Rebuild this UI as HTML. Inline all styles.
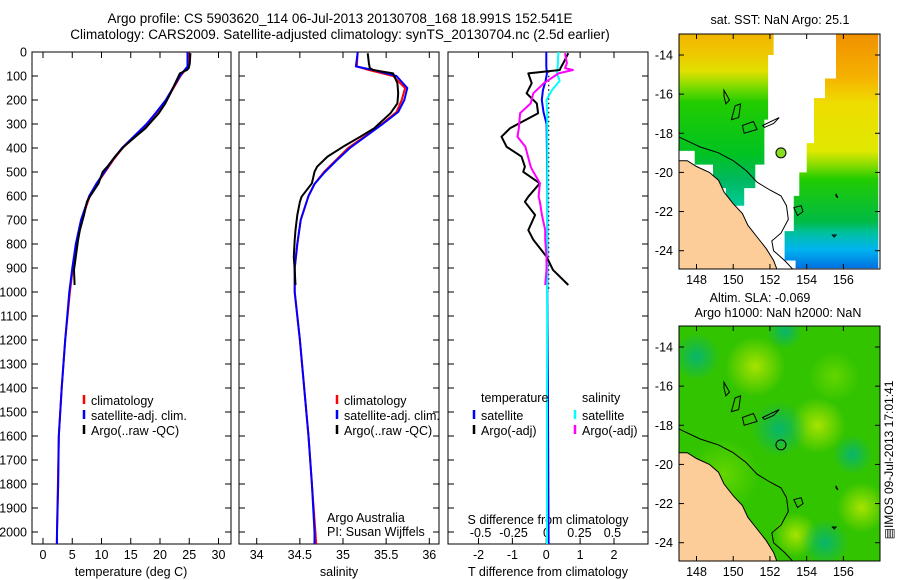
<!DOCTYPE html>
<html><head><meta charset="utf-8">
<style>
html,body{margin:0;padding:0;background:#fff;}
svg{display:block;font-family:"Liberation Sans",sans-serif;}
text{fill:#000;}
</style></head>
<body>
<svg id="fig" width="900" height="580" viewBox="0 0 900 580" xmlns="http://www.w3.org/2000/svg">
<text x="340" y="23" font-size="13.5" text-anchor="middle">Argo profile: CS 5903620_114 06-Jul-2013 20130708_168 18.991S 152.541E</text>
<text x="340" y="39" font-size="13.5" text-anchor="middle">Climatology: CARS2009. Satellite-adjusted climatology: synTS_20130704.nc (2.5d earlier)</text>
<g id="plots"></g>
<g id="maps"></g>
</svg>
<script>
// ---------- data ----------
const depthTicks=[0,100,200,300,400,500,600,700,800,900,1000,1100,1200,1300,1400,1500,1600,1700,1800,1900,2000];
const tempTicks=[0,5,10,15,20,25,30];
const salTicks=[34,34.5,35,35.5,36];
const tdiffTicks=[-2,-1,0,1,2];
const sdiffTicks=[-0.5,-0.25,0,0.25,0.5];
const sdiffTickLabels=["-0.5","-0.25","0","0.25","0.5"];

const climDepth=[0,60,75,100,150,200,250,300,350,400,450,500,550,600,700,800,900,1000,1200,1400,1600,1800,2000,2050];
const climTemp=[24.8,24.8,24.3,23.5,22.3,21.1,19.5,17.8,15.7,13.6,12.0,10.6,9.2,8.0,6.6,5.7,5.1,4.6,3.8,3.2,2.7,2.55,2.4,2.35];
const satTemp=[24.7,24.7,24.2,23.4,22.2,21.0,19.4,17.7,15.6,13.5,11.9,10.5,9.1,7.9,6.5,5.6,5.0,4.5,3.8,3.2,2.7,2.6,2.4,2.4];
const climSal=[35.17,35.16,35.30,35.58,35.72,35.68,35.62,35.45,35.26,35.06,34.92,34.78,34.67,34.60,34.51,34.47,34.44,34.44,34.50,34.55,34.60,34.64,34.68,34.69];
const satSal=[35.17,35.15,35.35,35.62,35.745,35.71,35.64,35.46,35.27,35.08,34.93,34.79,34.67,34.60,34.51,34.47,34.44,34.44,34.50,34.55,34.60,34.64,34.67,34.67];

const argoDepth=[5,47,67,75,89,130,172,214,255,318,353,395,436,478,499,547,603,624,679,742,783,853,908,971];
const argoTemp=[25.2,25.1,24.9,24.6,23.4,22.6,21.8,20.9,19.8,17.5,15.8,13.8,12.3,11.0,10.2,9.5,8.0,7.5,7.0,6.3,6.0,5.6,5.3,5.4];
const argoSal=[35.286,35.30,35.31,35.35,35.58,35.63,35.64,35.63,35.55,35.36,35.20,35.00,34.82,34.70,34.67,34.64,34.52,34.50,34.47,34.45,34.44,34.43,34.44,34.45];

const argoTdiff=[0.65,0.5,0.42,0.4,-0.53,-0.43,-0.58,-0.28,-0.24,-1.07,-1.32,-1.17,-0.73,-0.63,-0.68,-0.19,-0.53,-0.63,-0.33,-0.53,-0.38,0.01,0.2,0.65];
const argoSdiff=[0.14,0.155,0.14,0.2,0.09,-0.02,-0.1,-0.12,-0.2,-0.21,-0.22,-0.16,-0.14,-0.12,-0.1,-0.05,-0.06,-0.05,-0.035,-0.01,-0.01,0,0,-0.01];
const satDiffDepth=[0,60,90,120,160,200,250,300,400,600,800,1000,1400,2050];
const satTdiff=[0,0,0.02,-0.02,-0.1,-0.13,-0.08,0.01,0.02,0.03,0.03,0.03,0.05,0.07];
const satSdiff=[0.09,0.085,0.08,0.1,0.04,0.0,0.005,0.005,0.006,0.006,0.005,0.005,0.004,0.004];

// ---------- helpers ----------
const NS="http://www.w3.org/2000/svg";
function mk(tag,attrs,parent,txt){const e=document.createElementNS(NS,tag);for(const k in attrs)e.setAttribute(k,attrs[k]);if(txt!==undefined)e.textContent=txt;parent.appendChild(e);return e;}
const TOP=52,BOT=544;
const yD=d=>TOP+d*0.24;
function lin(d0,d1,p0,p1){return v=>p0+(v-d0)/(d1-d0)*(p1-p0);}
const plots=document.getElementById('plots');

function frame(x0,x1,name,xTicks,xScale,xLabels,yLabels){
  const g=mk('g',{},plots);
  
  
  const r=mk('rect',{x:x0,y:TOP,width:x1-x0,height:BOT-TOP,fill:'none',stroke:'#000','stroke-width':1},g);
  
  
  depthTicks.forEach(d=>{
    const y=yD(d);
    mk('line',{x1:x0,x2:x0+6,y1:y,y2:y,stroke:'#000'},g);
    mk('line',{x1:x1-6,x2:x1,y1:y,y2:y,stroke:'#000'},g);
    if(yLabels){const t=mk('text',{x:x0-5,y:y+4.5,'font-size':12.5,'text-anchor':'end'},g,String(d));
      
      }
  });
  if(xTicks){xTicks.forEach((v,i)=>{
    const x=xScale(v);
    mk('line',{x1:x,x2:x,y1:BOT,y2:BOT-6,stroke:'#000'},g);
    mk('line',{x1:x,x2:x,y1:TOP,y2:TOP+6,stroke:'#000'},g);
    if(xLabels){const t=mk('text',{x:x,y:BOT+15,'font-size':12.5,'text-anchor':'middle'},g,xLabels[i]);
      
      }
  });}
  return g;
}
function line(g,xs,ds,sx,color,name,w){
  const pts=xs.map((v,i)=>sx(v).toFixed(1)+','+yD(ds[i]).toFixed(1)).join(' ');
  const p=mk('polyline',{points:pts,fill:'none',stroke:color,'stroke-width':w||2,'stroke-linejoin':'round'},g);
  
  
  return p;
}
function legend(g,x,y,color,label){
  mk('line',{x1:x,x2:x,y1:y-10,y2:y-1,stroke:color,'stroke-width':2.5},g);
  const t=mk('text',{x:x+7,y:y,'font-size':12.5},g,label);
  
  
}
function label(g,x,y,txt,name,anchor){const t=mk('text',{x:x,y:y,'font-size':12.5,'text-anchor':anchor||'middle'},g,txt);
  
  return t;}

// Panel 1: temperature
const sT=lin(0,30,43,218.5);
const g1=frame(32,231,'temperature-panel',tempTicks,sT,tempTicks.map(String),true);
line(g1,climTemp,climDepth,sT,'#ff0000','climatology-temp-line');
line(g1,satTemp,climDepth,sT,'#0000ff','satellite-temp-line');
line(g1,argoTemp,argoDepth,sT,'#000000','argo-temp-line');
legend(g1,84,405,'#ff0000','climatology');
legend(g1,84,420,'#0000ff','satellite-adj. clim.');
legend(g1,84,435,'#000000','Argo(..raw -QC)');
label(g1,131,576,'temperature (deg C)','x-axis-title-temperature');

// Panel 2: salinity
const sS=lin(34,36,256.7,429.3);
const g2=frame(239,439,'salinity-panel',salTicks,sS,["34","34.5","35","35.5","36"],false);
line(g2,climSal,climDepth,sS,'#ff0000','climatology-salinity-line');
line(g2,satSal,climDepth,sS,'#0000ff','satellite-salinity-line');
line(g2,argoSal,argoDepth,sS,'#000000','argo-salinity-line');
legend(g2,337,405,'#ff0000','climatology');
legend(g2,337,420,'#0000ff','satellite-adj. clim.');
legend(g2,337,435,'#000000','Argo(..raw -QC)');
label(g2,327,522,'Argo Australia','credit-line-1','start');
label(g2,327,536,'PI: Susan Wijffels','credit-line-2','start');
label(g2,339,576,'salinity','x-axis-title-salinity');

// Panel 3: differences
const sTd=lin(-2,2,478.5,614);
const sSd=lin(-0.5,0.5,480.6,612.4);
const g3=frame(448,648,'difference-panel',tdiffTicks,sTd,null,false);
tdiffTicks.forEach(v=>{const t=mk('text',{x:sTd(v),y:BOT+15,'font-size':12.5,'text-anchor':'middle'},g3,String(v));
  
  });
sdiffTicks.forEach((v,i)=>{const t=mk('text',{x:sSd(v),y:537,'font-size':12.5,'text-anchor':'middle'},g3,sdiffTickLabels[i]);
  
  });
label(g3,548,524,'S difference from climatology','s-diff-axis-title');
label(g3,548,576,'T difference from climatology','t-diff-axis-title');
const dz=mk('line',{x1:548.7,x2:548.7,y1:yD(80),y2:yD(1000),stroke:'#000','stroke-width':1.2,'stroke-dasharray':'1.5,3'},g3);


line(g3,satTdiff,satDiffDepth,sTd,'#0000ff','satellite-t-diff-line');
line(g3,satSdiff,satDiffDepth,sSd,'#00ffff','satellite-s-diff-line');
line(g3,argoTdiff,argoDepth,sTd,'#000000','argo-t-diff-line');
line(g3,argoSdiff,argoDepth,sSd,'#ff00ff','argo-s-diff-line');
label(g3,481,402,'temperature','legend-header-temperature','start');
label(g3,582,402,'salinity','legend-header-salinity','start');
legend(g3,474,420,'#0000ff','satellite');
legend(g3,474,435,'#000000','Argo(-adj)');
legend(g3,575,420,'#00ffff','satellite');
legend(g3,575,435,'#ff00ff','Argo(-adj)');

// ---------- maps ----------
const maps=document.getElementById('maps');
const lonTicks=[148,150,152,154,156];
const latTicks=[14,16,18,20,22,24];
const MX0=679,MX1=880;
const px=lon=>696.5+(lon-148)*18.36;
function drawMap(top,name,fillFn){
  const bot=top+235;
  const py=lat=>top+21+(lat-14)*19.57;
  const P=arr=>arr.map(p=>px(p[0]).toFixed(1)+','+py(p[1]).toFixed(1)).join(' ');
  const g=mk('g',{},maps);
  
  
  const cid=name+'-clip';
  const cp=mk('clipPath',{id:cid},g);mk('rect',{x:MX0,y:top,width:MX1-MX0,height:bot-top},cp);
  const inner=mk('g',{'clip-path':'url(#'+cid+')'},g);
  fillFn(inner,P,py,top,bot);
  const land=[[146,19.4],[147.5,19.4],[148.0,19.7],[148.7,20.0],[149.2,20.4],[149.5,21.0],[150.0,21.6],[150.5,22.1],[150.8,22.7],[151.3,23.3],[151.8,23.9],[152.2,24.5],[152.6,25.5],[146,25.5]];
  const l=mk('polygon',{points:P(land),fill:'#fccc99',stroke:'#000','stroke-width':1},inner);
  
  
  const reef=[[146,18.0],[147.07,18.2],[148.2,18.7],[149.2,19.0],[150.0,19.4],[150.7,19.9],[151.3,20.5],[152.0,20.9],[152.6,21.2],[152.9,21.7],[153.0,22.4],[152.6,23.1],[152.1,23.5],[152.2,24.0],[152.8,24.5],[153.3,25.0]];
  mk('polyline',{points:P(reef),fill:'none',stroke:'#000','stroke-width':1},inner);
  const isl=[[[149.5,15.8],[149.8,16.3],[149.6,16.5],[149.5,16.1]],[[150.1,16.6],[150.4,16.5],[150.3,17.2],[149.9,17.3]],[[150.5,17.6],[151.1,17.4],[151.3,17.8],[150.6,18.0]],[[151.6,17.6],[152.5,17.2],[152.2,17.5],[151.7,17.7]],[[155.6,21.1],[155.7,21.3],[155.6,21.2]],[[155.4,23.2],[155.6,23.2],[155.5,23.3]]];
  isl.forEach(s=>mk('polygon',{points:P(s),fill:'none',stroke:'#000','stroke-width':1},inner));
  mk('polygon',{points:P([[153.3,21.8],[153.7,21.7],[153.8,22.0],[153.5,22.2]]),fill:'none',stroke:'#000','stroke-width':1},inner);
  mk('circle',{cx:px(152.6),cy:py(19.0),r:5,fill:'none',stroke:'#000','stroke-width':1},inner);
  const fr=mk('rect',{x:MX0,y:top,width:MX1-MX0,height:bot-top,fill:'none',stroke:'#000','stroke-width':1},g);
  
  
  lonTicks.forEach(v=>{const x=px(v);mk('line',{x1:x,x2:x,y1:bot,y2:bot-5,stroke:'#000'},g);mk('line',{x1:x,x2:x,y1:top,y2:top+5,stroke:'#000'},g);
    const t=mk('text',{x:x,y:bot+15,'font-size':12.5,'text-anchor':'middle'},g,String(v));
    
    });
  latTicks.forEach(v=>{const y=py(v);mk('line',{x1:MX0,x2:MX0+5,y1:y,y2:y,stroke:'#000'},g);mk('line',{x1:MX1-5,x2:MX1,y1:y,y2:y,stroke:'#000'},g);
    const t=mk('text',{x:673,y:y+4.5,'font-size':12.5,'text-anchor':'end'},g,'-'+v);
    
    });
}
const defs=mk('defs',{},maps);
function grad(id,stops,vertical){const lg=mk('linearGradient',{id:id,x1:0,y1:0,x2:vertical?0:1,y2:vertical?1:0},defs);stops.forEach(s=>mk('stop',{offset:s[0],'stop-color':s[1]},lg));}
function rgrad(id,color,op){const rg=mk('radialGradient',{id:id},defs);mk('stop',{offset:0,'stop-color':color,'stop-opacity':op},rg);mk('stop',{offset:1,'stop-color':color,'stop-opacity':0},rg);}
grad('gl',[[0,'#f2b400'],[0.12,'#eec800'],[0.22,'#e0e000'],[0.3,'#88dd00'],[0.4,'#22cc00'],[0.7,'#00c322'],[0.85,'#00b860'],[1,'#00cc99']],true);
grad('gr',[[0,'#f09000'],[0.18,'#f5b000'],[0.3,'#eedd00'],[0.5,'#e0e800'],[0.56,'#88dd00'],[0.62,'#22cc00'],[0.8,'#00bb44'],[0.85,'#00c0a0'],[0.92,'#00b4f0'],[1,'#0070e0']],true);
rgrad('rY','#bbe800',0.85);rgrad('rT','#00b380',0.85);rgrad('rL','#77dd00',0.7);

drawMap(34,'sst-map',(g,P,py,top,bot)=>{
  const left=[[147.07,12.9],[152.2,12.9],[152.2,14.0],[151.9,14.0],[151.9,17.3],[151.7,17.3],[151.7,19.6],[151.2,19.6],[151.2,20.8],[150.6,20.8],[150.6,21.7],[149.6,21.7],[149.6,20.8],[148.9,20.8],[148.9,19.6],[147.9,19.6],[147.9,18.9],[147.07,18.9]];
  const lp=mk('polygon',{points:P(left),fill:'url(#gl)'},g);
  
  
  const right=[[155.6,12.9],[157.9,12.9],[157.9,24.9],[153.4,24.9],[153.4,24.5],[152.8,24.5],[152.8,23.0],[153.3,23.0],[153.3,21.2],[153.6,21.2],[153.6,20.0],[154.0,20.0],[154.0,18.5],[154.4,18.5],[154.4,16.2],[155.0,16.2],[155.0,15.2],[155.6,15.2]];
  const rp=mk('polygon',{points:P(right),fill:'url(#gr)'},g);
  
  
  mk('circle',{cx:px(152.6),cy:py(19.0),r:5,fill:'#88dd22'},g);
});
drawMap(326,'sla-map',(g,P,py,top,bot)=>{
  const b=mk('rect',{x:MX0,y:top,width:MX1-MX0,height:bot-top,fill:'#33c400'},g);
  
  
  [[151.2,15.0,30,'rY'],[154.6,18.0,28,'rY'],[153.4,23.6,22,'rY'],[157,22.2,25,'rY'],[149.5,20.5,35,'rL'],[155.5,15.5,25,'rL'],[152.5,18.2,28,'rT'],[155,24,24,'rT'],[148,14.5,24,'rT'],[152.8,13.2,18,'rT'],[156.5,19.5,20,'rT']].forEach(c=>mk('circle',{cx:px(c[0]),cy:py(c[1]),r:c[2],fill:'url(#'+c[3]+')'},g));
});
function mt(x,y,txt,name){const t=mk('text',{x:x,y:y,'font-size':12.5,'text-anchor':'middle'},maps,txt);
  
  }
mt(780,24,'sat. SST: NaN Argo: 25.1','sst-map-title');
mt(760,302,'Altim. SLA: -0.069','sla-map-title-1');
mt(778,317,'Argo h1000: NaN h2000: NaN','sla-map-title-2');
const st=mk('text',{x:0,y:0,'font-size':12,'text-anchor':'middle',transform:'translate(893,460) rotate(-90)'},maps,'\u25A4IMOS 09-Jul-2013 17:01:41');


</script>
</body></html>
